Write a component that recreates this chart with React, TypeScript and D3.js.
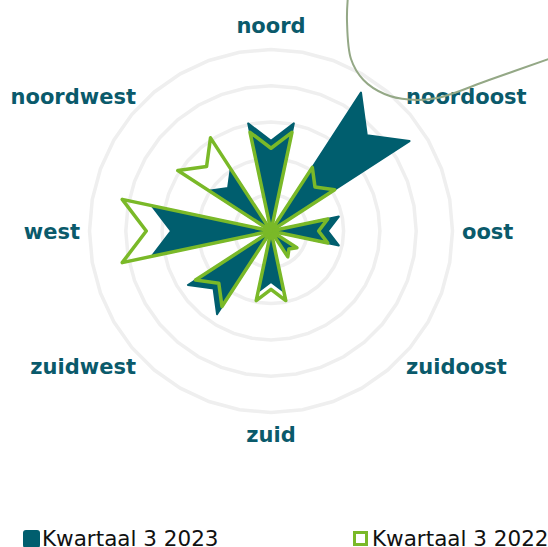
import React from "react";
import * as d3 from "d3";

const directions = ["noord", "noordoost", "oost", "zuidoost", "zuid", "zuidwest", "west", "noordwest"];
const series2023 = [3.03, 4.55, 1.91, 0.8, 1.71, 2.73, 3.36, 2.04];
const series2022 = [2.78, 2.09, 1.6, 0.85, 1.96, 2.48, 4.19, 3.06];
const ringValues = [1, 2, 3, 4, 5];
const seriesNames = ["Kwartaal 3 2023", "Kwartaal 3 2022"];

const W = 548;
const H = 547;
const cx = 271;
const cy = 231;
const DARK = "#005e6e";
const GREEN = "#7ab928";
const LABEL = "#0a5a6b";

const rScale = d3.scaleLinear().domain([0, 5]).range([0, 181.5]);
const angleScale = d3.scaleLinear().domain([0, directions.length]).range([0, 2 * Math.PI]);
const HALF = (12 * Math.PI) / 180;

const radial = d3
  .lineRadial<[number, number]>()
  .angle((d) => d[0])
  .radius((d) => d[1])
  .curve(d3.curveLinearClosed);

function arrowPath(i: number, v: number): string {
  const a = angleScale(i);
  const R = rScale(v);
  return radial([
    [a, 0],
    [a - HALF, R],
    [a, R * 0.82],
    [a + HALF, R],
  ]) as string;
}

const ringPts = d3.range(36).map((k) => (k * 2 * Math.PI) / 36);
function ringPath(v: number): string {
  return radial(ringPts.map((a) => [a, rScale(v)] as [number, number])) as string;
}

const decoPts: [number, number][] = [
  [347.8, -2],
  [347, 21],
  [351, 59],
  [363.5, 80],
  [384.5, 94],
  [409, 99.6],
  [437, 98],
  [489, 80],
  [550, 58.5],
];
const decoLine = d3.line<[number, number]>().curve(d3.curveCatmullRom.alpha(0.5));

function labelProps(i: number) {
  const a = angleScale(i);
  const R = 191;
  const x = cx + R * Math.sin(a);
  const y = cy - R * Math.cos(a);
  const s = Math.sin(a);
  const c = Math.cos(a);
  let anchor: "start" | "middle" | "end" = "middle";
  if (s > 0.1) anchor = "start";
  else if (s < -0.1) anchor = "end";
  let dy = 7.7;
  if (Math.abs(s) < 0.1) dy = c > 0 ? -7 : 20;
  else if (Math.abs(c) > 0.1) dy = 8;
  return { x, y: y + dy, anchor };
}

export default function App() {
  return (
    <svg
      width={W}
      height={H}
      style={{ position: "absolute", left: 0, top: 0, background: "#fff" }}
      fontFamily="'DejaVu Sans', Verdana, sans-serif"
    >
      <g transform={`translate(${cx},${cy})`}>
        {ringValues.map((v) => (
          <path key={v} d={ringPath(v)} fill="none" stroke="#efefef" strokeWidth={3.5} />
        ))}
      </g>
      {directions.map((d, i) => {
        const p = labelProps(i);
        return (
          <text key={d} x={p.x} y={p.y} textAnchor={p.anchor} fontSize={21} fontWeight="bold" fill={LABEL}>
            {d}
          </text>
        );
      })}
      <path d={decoLine(decoPts) as string} fill="none" stroke="#94a886" strokeWidth={2} />
      <g transform={`translate(${cx},${cy})`}>
        {series2023.map((v, i) => (
          <path key={"a" + i} d={arrowPath(i, v)} fill={DARK} stroke={DARK} strokeWidth={2} strokeLinejoin="round" />
        ))}
        {series2022.map((v, i) => (
          <path key={"b" + i} d={arrowPath(i, v)} fill="none" stroke={GREEN} strokeWidth={3.5} strokeLinejoin="round" />
        ))}
      </g>
      <g>
        <rect x={23} y={530} width={17} height={18} rx={3} fill={DARK} />
        <text x={42} y={545.5} fontSize={21.5} fill="#111">
          {seriesNames[0]}
        </text>
        <rect x={354.5} y={532.5} width={12} height={12} fill="none" stroke={GREEN} strokeWidth={3} />
        <text x={372} y={545.5} fontSize={21.5} fill="#111">
          {seriesNames[1]}
        </text>
      </g>
    </svg>
  );
}
